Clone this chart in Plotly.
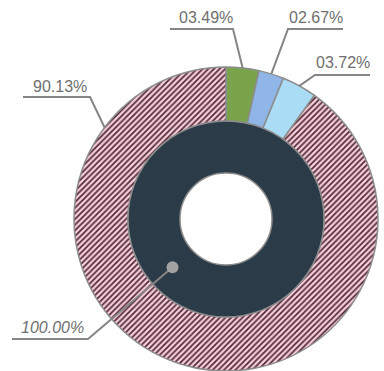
import math
import plotly.graph_objects as go

# ---- data ----
outer_labels = ["A", "B", "C", "D"]
outer_values = [3.49, 2.67, 3.72, 90.13]
outer_text = ["03.49%", "02.67%", "03.72%", "90.13%"]
inner_labels = ["Total"]
inner_values = [100.0]
inner_text = ["100.00%"]

W, H = 384, 371
cx, cy = 226, 219          # pixel centre of the donut
R_out, R_mid, R_in = 152, 98, 46

def dom_x(r):
    return [(cx - r) / W, (cx + r) / W]

def dom_y(r):
    yb = H - cy
    return [max(0, (yb - r) / H), (yb + r) / H]

outer_colors = ["#7aa44c", "#8fb6e6", "#abdcf6", "#f6cdd8"]
pattern_shapes = ["", "", "", "/"]
pattern_bg = ["#7aa44c", "#8fb6e6", "#abdcf6", "#f6cdd8"]

fig = go.Figure()
fig.add_trace(go.Pie(
    labels=outer_labels, values=outer_values, sort=False, direction="clockwise",
    rotation=0, hole=R_mid / R_out, textinfo="none", hoverinfo="skip",
    domain=dict(x=dom_x(R_out), y=dom_y(R_out)),
    marker=dict(colors=outer_colors,
                line=dict(color="#8c8c8c", width=1.5),
                pattern=dict(shape=pattern_shapes, fgcolor="#4a2535",
                             bgcolor=pattern_bg, size=4, solidity=0.4,
                             fillmode="replace")),
    showlegend=False,
))
fig.add_trace(go.Pie(
    labels=inner_labels, values=inner_values, sort=False, hole=R_in / R_mid,
    textinfo="none", hoverinfo="skip",
    domain=dict(x=dom_x(R_mid), y=dom_y(R_mid)),
    marker=dict(colors=["#2c3b48"], line=dict(color="#8c8c8c", width=1.5)),
    showlegend=False,
))

def px(x, y):
    return x / W, 1 - y / H

def polar(angle_deg, r):
    a = math.radians(angle_deg)
    return cx + r * math.cos(a), cy - r * math.sin(a)

# mid angles of the small slices computed from the data
total = sum(outer_values)
mids = []
acc = 0
for v in outer_values:
    mids.append(90 - (acc + v / 2) / total * 360)
    acc += v

anchors = [polar(mids[0], R_out), polar(mids[1], R_out), polar(mids[2], R_out),
           polar(143, R_out), polar(222, (R_mid + R_in) / 2)]
# label placement: (text centre x, text centre y, underline x0, x1, y, end used)
label_layout = [
    (206, 18, 170, 233, 29, "right"),
    (316, 18, 288, 343, 29, "left"),
    (343, 63, 315, 370, 75, "left"),
    (60, 86, 23, 90, 97, "right"),
    (52, 327, 12, 88, 339, "right"),
]
texts = outer_text + inner_text

shapes = []
annotations = []
for i, (tx, ty, u0, u1, uy, end) in enumerate(label_layout):
    ax_, ay_ = anchors[i]
    if end == "right":
        pts = [(u0, uy), (u1, uy), (ax_, ay_)]
    else:
        pts = [(u1, uy), (u0, uy), (ax_, ay_)]
    path = "M " + " L ".join("%.4f,%.4f" % px(x, y) for x, y in pts)
    shapes.append(dict(type="path", path=path, xref="paper", yref="paper",
                       line=dict(color="#858585", width=2)))
    xx, yy = px(tx, ty)
    t = texts[i]
    if i == 4:
        t = "<i>" + t + "</i>"
    annotations.append(dict(text=t, x=xx, y=yy, xref="paper", yref="paper",
                            xanchor="center", yanchor="middle", showarrow=False,
                            font=dict(family="Liberation Sans, Arial",
                                      size=16, color="#6f6f6f")))

# grey dot at the inner label anchor
dx, dy = px(*anchors[4])
shapes.append(dict(type="circle", xref="paper", yref="paper",
                   xsizemode="pixel", ysizemode="pixel", xanchor=dx, yanchor=dy,
                   x0=-6, x1=6, y0=-6, y1=6,
                   fillcolor="#a3a3a3", line=dict(color="#a3a3a3", width=0)))

fig.update_layout(width=W, height=H, margin=dict(l=0, r=0, t=0, b=0),
                  paper_bgcolor="white", plot_bgcolor="white",
                  shapes=shapes, annotations=annotations)
fig.write_html("out.html")
